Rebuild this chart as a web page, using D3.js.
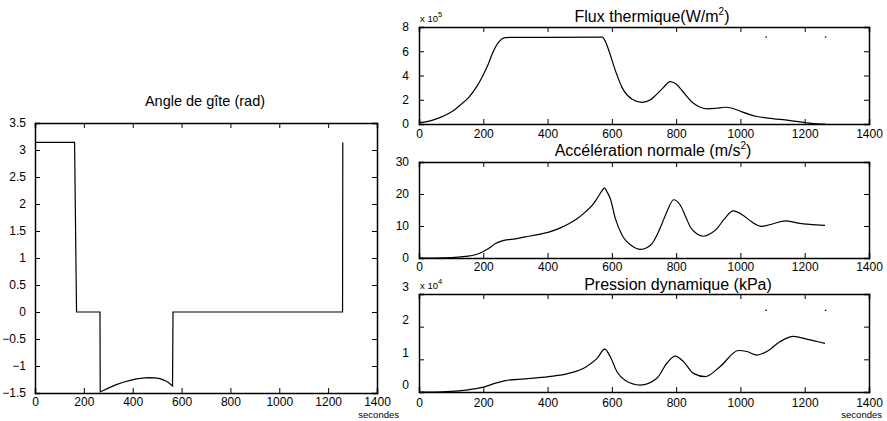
<!DOCTYPE html>
<html>
<head>
<meta charset="utf-8">
<script src="https://cdn.jsdelivr.net/npm/d3@7"></script>
<style>
  body { margin: 0; background: #fff; }
  text { font-family: "Liberation Sans", Arial, sans-serif; fill: #000; }
</style>
</head>
<body>
<div id="chart"></div>
<script>
// ---- data ----
const timeTicks = [0, 200, 400, 600, 800, 1000, 1200, 1400];

// Angle de gite (rad)
const angleT = [0, 162, 170, 266, 267, 300, 330, 361, 390, 415, 440, 463, 490, 511, 530, 545, 563, 565, 1259, 1260];
const angleV = [3.14, 3.14, 0, 0, -1.48, -1.41, -1.35, -1.30, -1.265, -1.24, -1.225, -1.215, -1.22, -1.235, -1.265, -1.30, -1.37, 0, 0, 3.14];
const angleTicks = [-1.5, -1, -0.5, 0, 0.5, 1, 1.5, 2, 2.5, 3, 3.5];

// Flux thermique (x 1e5 W/m2)
const fluxT = [0, 25, 52, 80, 104, 130, 155, 180, 197, 215, 228, 248, 264, 280, 400, 570, 580, 590, 611, 632, 663, 694, 720, 735, 760, 781, 800, 820, 850, 870, 896, 925, 952, 975, 1000, 1051, 1100, 1150, 1206, 1240, 1265];
const fluxV = [0.12, 0.2, 0.4, 0.7, 1.05, 1.6, 2.2, 3.1, 3.9, 4.9, 5.8, 6.75, 7.1, 7.15, 7.15, 7.17, 6.8, 6.1, 4.4, 3.0, 2.05, 1.79, 2.0, 2.34, 3.0, 3.5, 3.3, 2.7, 1.8, 1.45, 1.25, 1.3, 1.38, 1.3, 1.05, 0.62, 0.45, 0.3, 0.1, 0.02, 0];
const fluxTicks = [0, 2, 4, 6, 8];
const fluxDotsT = [1080, 1265];
const fluxDotsV = [7.17, 7.17];

// Acceleration normale (m/s2)
const accT = [0, 50, 100, 145, 175, 197, 220, 238, 264, 300, 331, 370, 404, 440, 466, 495, 518, 540, 554, 568, 577, 586, 595, 611, 632, 663, 689, 710, 725, 740, 755, 771, 792, 813, 830, 844, 865, 885, 905, 927, 950, 978, 1009, 1035, 1066, 1102, 1139, 1175, 1216, 1263];
const accV = [0, 0, 0.1, 0.5, 1.0, 1.9, 3.2, 4.5, 5.5, 6.0, 6.6, 7.3, 8.1, 9.4, 10.7, 12.5, 14.4, 16.6, 18.6, 20.8, 21.9, 20.5, 18.6, 12.3, 7.1, 3.75, 2.7, 3.3, 4.5, 7.1, 10.5, 14.4, 18.2, 16.5, 12.8, 9.7, 7.5, 6.8, 7.5, 9.2, 12.2, 14.7, 13.3, 11.3, 9.9, 10.7, 11.6, 11.0, 10.5, 10.2];
const accTicks = [0, 10, 20, 30];

// Pression dynamique (x 1e4 kPa)
const presT = [0, 50, 100, 145, 197, 238, 269, 331, 404, 466, 518, 554, 578, 595, 616, 642, 688, 740, 771, 797, 823, 854, 890, 937, 994, 1020, 1051, 1082, 1123, 1165, 1206, 1263];
const presV = [0, 0, 0.02, 0.06, 0.14, 0.27, 0.35, 0.4, 0.47, 0.57, 0.76, 1.03, 1.31, 1.08, 0.62, 0.35, 0.21, 0.42, 0.88, 1.10, 0.93, 0.57, 0.47, 0.78, 1.27, 1.24, 1.13, 1.24, 1.54, 1.70, 1.62, 1.49];
const presTicks = [0, 1, 2, 3];
const presDotsT = [1080, 1265];
const presDotsV = [2.5, 2.5];

const W = 887, H = 421;
const svg = d3.select("#chart").append("svg")
  .attr("width", W).attr("height", H);

function zip(ts, vs) { return ts.map((t, i) => ({ t: t, v: vs[i] })); }

function drawPanel(cfg) {
  const x = d3.scaleLinear().domain([0, 1400]).range([cfg.left, cfg.right]);
  const y = d3.scaleLinear().domain(cfg.yDomain).range([cfg.bottom, cfg.top]);
  const g = svg.append("g");

  // curve
  const line = d3.line()
    .x(d => x(d.t)).y(d => y(d.v))
    .curve(cfg.smooth ? d3.curveMonotoneX : d3.curveLinear);
  g.append("path")
    .datum(zip(cfg.t, cfg.v))
    .attr("d", line)
    .attr("fill", "none")
    .attr("stroke", "#000")
    .attr("stroke-width", 1.2);

  if (cfg.dotsT) {
    g.selectAll(".dot").data(zip(cfg.dotsT, cfg.dotsV)).join("rect")
      .attr("x", d => x(d.t) - 0.7).attr("y", d => y(d.v) - 0.7)
      .attr("width", 1.4).attr("height", 1.4).attr("fill", "#000");
  }

  // MATLAB-like box with inward ticks on all sides
  const tl = 5;
  g.append("g").attr("transform", `translate(0,${cfg.bottom})`)
    .call(d3.axisBottom(x).tickValues(timeTicks).tickSize(-tl).tickPadding(cfg.xPad).tickFormat(d3.format("d")));
  g.append("g").attr("transform", `translate(0,${cfg.top})`)
    .call(d3.axisTop(x).tickValues(timeTicks).tickSize(-tl).tickFormat(""));
  g.append("g").attr("transform", `translate(${cfg.left},0)`)
    .call(d3.axisLeft(y).tickValues(cfg.yTicks).tickSize(-tl).tickPadding(cfg.yPad).tickFormat(cfg.yFormat));
  g.append("g").attr("transform", `translate(${cfg.right},0)`)
    .call(d3.axisRight(y).tickValues(cfg.yTicks).tickSize(-tl).tickFormat(""));

  g.selectAll(".domain").attr("stroke", "#000").attr("stroke-width", 1.5);
  g.selectAll(".tick line").attr("stroke", "#000").attr("stroke-width", 1);
  g.selectAll(".tick text").attr("font-size", 12).attr("fill", "#000")
    .attr("font-family", "Liberation Sans, Arial, sans-serif");
  if (cfg.yLabelDy) {
    g.selectAll("g.tick text").filter(function () { return this.getAttribute("x") < 0; })
      .attr("dy", (0.32 + cfg.yLabelDy / 12) + "em");
  }

  // title
  const title = g.append("text")
    .attr("x", cfg.titleX).attr("y", cfg.titleY)
    .attr("text-anchor", "middle").attr("font-size", cfg.titleSize);
  title.append("tspan").text(cfg.title[0]);
  if (cfg.title.length > 1) {
    title.append("tspan").attr("font-size", 10).attr("dy", -7).text(cfg.title[1]);
    title.append("tspan").attr("dy", 7).text(cfg.title[2]);
  }

  // exponent
  if (cfg.exp) {
    const e = g.append("text").attr("x", cfg.left + 1).attr("y", cfg.top - 5).attr("font-size", 9.5);
    e.append("tspan").text("x 10");
    e.append("tspan").attr("font-size", 7.5).attr("dy", -5).text(cfg.exp);
  }

  if (cfg.seconds) {
    g.append("text").attr("x", cfg.secondsX).attr("y", 418)
      .attr("text-anchor", "end").attr("font-size", 9.5).text("secondes");
  }
}

const minusFmt = d => (d < 0 ? "\u2212" + Math.abs(d) : String(d));

drawPanel({
  left: 35, right: 377, top: 123, bottom: 393,
  yDomain: [-1.5, 3.5], yTicks: angleTicks, yFormat: minusFmt,
  xPad: 4, yPad: 9,
  t: angleT, v: angleV, smooth: false,
  title: ["Angle de g\u00eete (rad)"], titleX: 205, titleY: 106, titleSize: 14.5,
  seconds: true, secondsX: 399
});

drawPanel({
  left: 419, right: 869, top: 27, bottom: 124,
  yDomain: [0, 8], yTicks: fluxTicks, yFormat: d3.format("d"),
  xPad: 5, yPad: 10,
  t: fluxT, v: fluxV, smooth: true, dotsT: fluxDotsT, dotsV: fluxDotsV,
  title: ["Flux thermique(W/m", "2", ")"], titleX: 652, titleY: 22, titleSize: 16,
  exp: "5"
});

drawPanel({
  left: 419, right: 869, top: 162, bottom: 258,
  yDomain: [0, 30], yTicks: accTicks, yFormat: d3.format("d"),
  xPad: 4, yPad: 10,
  t: accT, v: accV, smooth: true,
  title: ["Acc\u00e9l\u00e9ration normale (m/s", "2", ")"], titleX: 653, titleY: 156, titleSize: 16
});

drawPanel({
  left: 419, right: 869, top: 294, bottom: 392,
  yDomain: [0, 3], yTicks: presTicks, yFormat: d3.format("d"), yLabelDy: -7,
  xPad: 6, yPad: 10,
  t: presT, v: presV, smooth: true, dotsT: presDotsT, dotsV: presDotsV,
  title: ["Pression dynamique (kPa)"], titleX: 678, titleY: 290, titleSize: 16,
  exp: "4", seconds: true, secondsX: 882
});
</script>
</body>
</html>
